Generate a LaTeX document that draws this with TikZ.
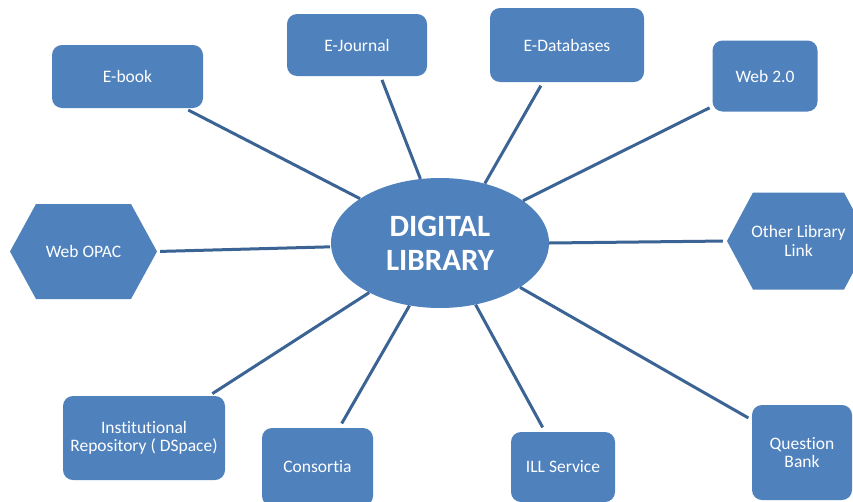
\documentclass[tikz,border=0pt]{standalone}
\usepackage{fontspec}
\setmainfont{Carlito}[Ligatures={NoCommon}]
\usetikzlibrary{shapes.geometric}
\definecolor{boxblue}{HTML}{4F81BD}
\definecolor{lineblue}{HTML}{3B6494}
\begin{document}
\begin{tikzpicture}[x=1pt,y=-1pt,
  lbl/.style={text=white,font=\fontsize{17.5}{18.5}\selectfont,align=center,inner sep=0pt},
  rbox/.style={lbl,shape=rectangle,fill=boxblue,rounded corners=10pt},
  hexa/.style={lbl,shape=rectangle,path picture={\fill[boxblue]
     (path picture bounding box.west) -- ([xshift=26pt]path picture bounding box.north west)
     -- ([xshift=-26pt]path picture bounding box.north east) -- (path picture bounding box.east)
     -- ([xshift=-26pt]path picture bounding box.south east) -- ([xshift=26pt]path picture bounding box.south west) -- cycle;}},
  hub/.style={ellipse,fill=boxblue,text=white,font=\fontsize{31}{34}\bfseries\selectfont,align=center,inner sep=0pt},
  conn/.style={draw=lineblue,line width=3pt}]
\clip (0,0) rectangle (853,501);
\fill[white] (0,0) rectangle (853,501);
\node[hub,minimum width=218pt,minimum height=130pt] (dl) at (440,243) {DIGITAL\\LIBRARY};
\node[rbox,minimum width=151pt,minimum height=63pt] (ebook) at (127.5,76.5) {E-book};
\node[rbox,minimum width=140pt,minimum height=62pt] (ejournal) at (357,45) {E-Journal};
\node[rbox,minimum width=154pt,minimum height=74pt] (edb) at (567,45) {E-Databases};
\node[rbox,minimum width=105pt,minimum height=71pt] (web) at (765,76) {Web 2.0};
\node[hexa,minimum width=147pt,minimum height=95pt] (opac) at (83.5,251.5) {Web OPAC};
\node[hexa,minimum width=143pt,minimum height=97pt] (other) at (798.5,241) {Other Library\\Link};
\node[rbox,minimum width=162pt,minimum height=84pt] (inst) at (144,438) {Institutional\\Repository ( DSpace)};
\node[rbox,minimum width=111pt,minimum height=78pt] (cons) at (317.5,467) {Consortia};
\node[rbox,minimum width=104pt,minimum height=70pt] (ill) at (563,467) {ILL Service};
\node[rbox,minimum width=100pt,minimum height=95pt] (qb) at (802,452.5) {Question\\Bank};
\draw[conn,shorten <=4pt] (ebook.-29) -- (dl.151);
\draw[conn,shorten <=4pt] (ejournal.-53) -- (dl.107);
\draw[conn,shorten <=4pt] (edb.237) -- (dl.53);
\draw[conn,shorten <=3pt] (web.210) -- (dl.27);
\draw[conn,shorten <=3pt,shorten >=1pt] (opac.east) -- (dl.182);
\draw[conn,shorten >=4pt] (dl.0) -- (other.west);
\draw[conn,shorten <=4pt] (inst.33) -- (dl.215);
\draw[conn,shorten <=5pt] (cons.61) -- (dl.244);
\draw[conn,shorten <=5pt] (ill.117) -- (dl.300);
\draw[conn,shorten <=4pt] (qb.147) -- (dl.331);
\end{tikzpicture}
\end{document}
